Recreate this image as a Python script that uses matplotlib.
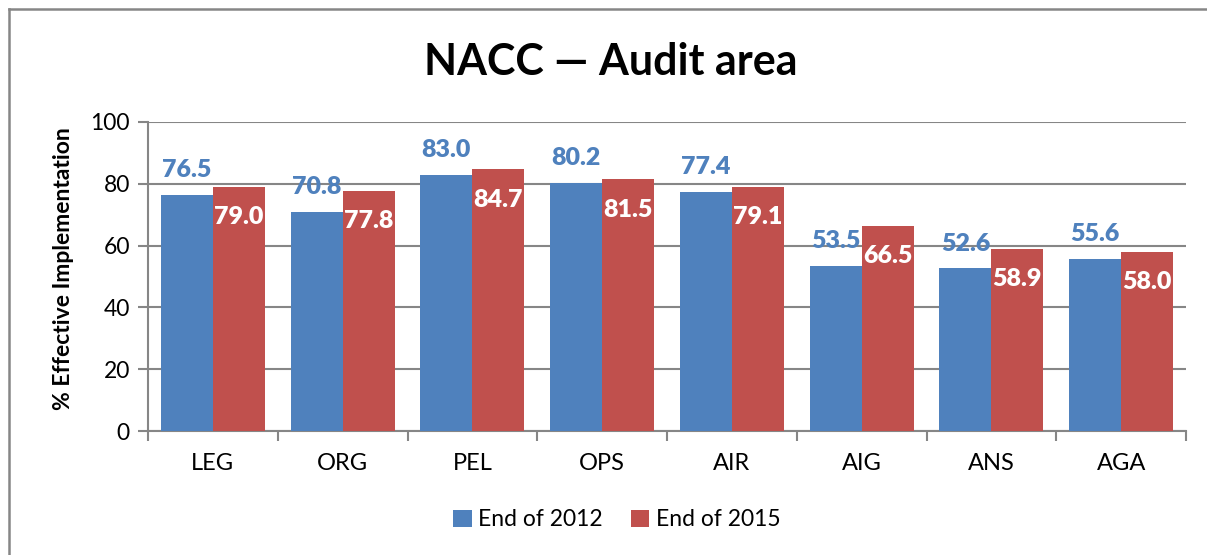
import numpy as np
import matplotlib.pyplot as plt
from matplotlib.lines import Line2D

plt.rcParams['font.family'] = ['Lato', 'DejaVu Sans']

areas = ['LEG', 'ORG', 'PEL', 'OPS', 'AIR', 'AIG', 'ANS', 'AGA']
end_2012 = [76.5, 70.8, 83.0, 80.2, 77.4, 53.5, 52.6, 55.6]
end_2015 = [79.0, 77.8, 84.7, 81.5, 79.1, 66.5, 58.9, 58.0]

blue = '#4F81BD'
red = '#C0504D'
grid_col = '#868686'

W, H = 1207, 555
fig = plt.figure(figsize=(W / 100, H / 100), dpi=100)
ax = fig.add_axes([148 / W, 1 - 431 / H, (1186 - 148) / W, (431 - 122) / H])

x = np.arange(len(areas))
bw = 0.4
b1 = ax.bar(x - bw / 2, end_2012, bw, color=blue, label='End of 2012', zorder=3)
b2 = ax.bar(x + bw / 2, end_2015, bw, color=red, label='End of 2015', zorder=3)

# labels: 2012 above the bar in blue, 2015 inside the top in white
for rect, v in zip(b1, end_2012):
    ax.annotate(f'{v:.1f}', (rect.get_x() + rect.get_width() / 2, v),
                xytext=(0, 10), textcoords='offset points', ha='center', va='bottom',
                color=blue, fontsize=18, fontweight='heavy', zorder=4)
for rect, v in zip(b2, end_2015):
    ax.annotate(f'{v:.1f}', (rect.get_x() + rect.get_width() / 2, v),
                xytext=(0, -14), textcoords='offset points', ha='center', va='top',
                color='white', fontsize=18, fontweight='heavy', zorder=4)

ax.set_xlim(-0.5, len(areas) - 0.5)
ax.set_ylim(0, 100)
ax.set_yticks([0, 20, 40, 60, 80, 100])
ax.yaxis.grid(True, color=grid_col, linewidth=1.5, zorder=0)
ax.set_axisbelow(True)

# category ticks sit between the groups
ax.set_xticks(x)
ax.set_xticklabels(areas, fontsize=17)
ax.set_xticks(np.arange(len(areas) + 1) - 0.5, minor=True)
ax.tick_params(axis='x', which='major', length=0, pad=16)
ax.tick_params(axis='x', which='minor', length=7, width=1.5, color=grid_col)
ax.tick_params(axis='y', length=7, width=1.5, color=grid_col, labelsize=16.5, pad=6)

for s in ['top', 'right']:
    ax.spines[s].set_visible(False)
for s in ['left', 'bottom']:
    ax.spines[s].set_color(grid_col)
    ax.spines[s].set_linewidth(1.5)

ax.set_ylabel('% Effective Implementation', fontsize=16.5, fontweight='bold')
ax.yaxis.set_label_coords(-0.071, 0.527)

fig.text(0.506, 1 - 62 / H, 'NACC \u2014 Audit area', ha='center', va='center',
         fontsize=31, fontweight='bold')

fig.legend(loc='center', bbox_to_anchor=(0.511, 1 - 520 / H), ncol=2, frameon=False,
           fontsize=16.5, handlelength=0.8, handleheight=0.8, handletextpad=0.3,
           columnspacing=1.2)

# outer chart border (left and top edges visible)
fig.add_artist(Line2D([8.5 / W, 8.5 / W], [0, 1 - 9 / H], transform=fig.transFigure,
                      color=grid_col, linewidth=1.8))
fig.add_artist(Line2D([8.5 / W, 1], [1 - 9 / H, 1 - 9 / H], transform=fig.transFigure,
                      color=grid_col, linewidth=1.8))

fig.savefig('out.png', dpi=100)
